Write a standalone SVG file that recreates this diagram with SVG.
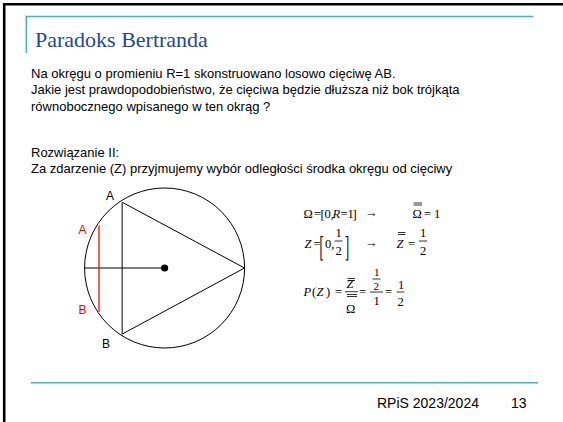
<svg xmlns="http://www.w3.org/2000/svg" width="563" height="422" viewBox="0 0 563 422">
<style>
.body{font-family:"Liberation Sans",Arial,sans-serif;font-size:13px;fill:#000}
.foot{font-family:"Liberation Sans",Arial,sans-serif;font-size:14px;fill:#000}
.title{font-family:"Liberation Serif","Times New Roman",serif;font-size:22px;fill:#2147A0}
.m{font-family:"Liberation Serif","Times New Roman",serif;font-size:12.5px;fill:#000}
.s{font-size:11px}
.i{font-style:italic}
.lbl{font-family:"Liberation Sans",Arial,sans-serif;font-size:12px}
.red{fill:#FF0000}
.teal{stroke:#4AB3B0;stroke-width:1.5;fill:none}
.bar{stroke:#000;stroke-width:0.8}
</style>
<rect width="563" height="422" fill="#fff"/>
<path d="M4.2,422 V4.2 H563" fill="none" stroke="#000" stroke-width="2.6"/>
<g id="frame">
<path class="teal" d="M26.3,53 V16.6 H533.5"/>
<path class="teal" d="M31,382.7 H538"/>
</g>
<g id="title"><text class="title" x="35" y="46.5">Paradoks Bertranda</text></g>
<g id="intro">
<text class="body" x="31" y="77.5">Na okręgu o promieniu R=1 skonstruowano losowo cięciwę AB.</text>
<text class="body" x="31" y="94">Jakie jest prawdopodobieństwo, że cięciwa będzie dłuższa niż bok trójkąta</text>
<text class="body" x="31" y="110.5">równobocznego wpisanego w ten okrąg ?</text>
<text class="body" x="31" y="156.7">Rozwiązanie II:</text>
<text class="body" x="31" y="173.3">Za zdarzenie (Z) przyjmujemy wybór odległości środka okręgu od cięciwy</text>
</g>
<g id="figure">
<circle cx="164.6" cy="268" r="80" fill="none" stroke="#000" stroke-width="1"/>
<path d="M244.5,268 L122.3,202.3 M244.5,268 L121.8,334.3" fill="none" stroke="#000" stroke-width="1"/>
<path d="M122.2,202.3 V334.3" stroke="#555" stroke-width="1.5"/>
<path d="M84.6,268 H164.6" stroke="#000" stroke-width="1"/>
<circle cx="164.6" cy="268" r="3.6" fill="#000"/>
<path d="M99,225.5 V311.8" stroke="#FF0000" stroke-width="1.3"/>
<text class="lbl" x="110" y="199.5" text-anchor="middle">A</text>
<text class="lbl red" x="82.5" y="233.5" text-anchor="middle">A</text>
<text class="lbl red" x="82.5" y="313.5" text-anchor="middle">B</text>
<text class="lbl" x="106" y="347.5" text-anchor="middle">B</text>
</g>
<g id="math">
<!-- line 1 -->
<text class="m" x="303.5" y="218">Ω</text>
<text class="m" x="314" y="218">=</text>
<text class="m" x="320.5" y="219" font-size="15">[</text>
<text class="m" x="324.5" y="218">0,</text>
<text class="m i" x="332.5" y="218">R</text>
<text class="m" x="340.5" y="218">=</text>
<text class="m" x="347.5" y="218">1</text>
<text class="m" x="352.5" y="219" font-size="15">]</text>
<text class="m" x="365" y="217">→</text>
<text class="m" x="412.5" y="218">Ω</text>
<path class="bar" d="M413.5,203 H422 M413.5,205 H422"/>
<text class="m" x="424" y="218">=</text>
<text class="m" x="434" y="218">1</text>
<!-- line 2 -->
<text class="m i" x="304.5" y="248">Z</text>
<text class="m" x="313.5" y="248">=</text>
<text class="m" transform="translate(319.5,256) scale(1,2.3)">[</text>
<text class="m" x="325" y="248">0,</text>
<text class="m" x="335.5" y="237">1</text>
<path class="bar" d="M334.5,241 H342.5"/>
<text class="m" x="335.5" y="255">2</text>
<text class="m" transform="translate(345,256) scale(1,2.3)">]</text>
<text class="m" x="365" y="247">→</text>
<text class="m i" x="396.5" y="248">Z</text>
<path class="bar" d="M398,232.5 H405.5 M398,234.5 H405.5"/>
<text class="m" x="408" y="248">=</text>
<text class="m" x="420" y="237">1</text>
<path class="bar" d="M419,241 H427"/>
<text class="m" x="420" y="255">2</text>
<!-- line 3 -->
<text class="m i" x="303.5" y="296">P</text>
<text class="m" x="312" y="296">(</text>
<text class="m i" x="316.5" y="296">Z</text>
<text class="m" x="326" y="296">)</text>
<text class="m" x="335" y="296">=</text>
<text class="m i" x="346.5" y="288">Z</text>
<path class="bar" d="M347.5,278.5 H355 M347.5,280.5 H355"/>
<path class="bar" d="M345,291.7 H358"/>
<path class="bar" d="M347,294.5 H357 M347,296.5 H357"/>
<text class="m" x="346" y="313">Ω</text>
<text class="m" x="359" y="296">=</text>
<text class="m s" x="374" y="275.5">1</text>
<path class="bar" d="M372.5,279 H380.5"/>
<text class="m s" x="373.5" y="290">2</text>
<path class="bar" d="M370,292 H383"/>
<text class="m" x="373.5" y="305">1</text>
<text class="m" x="385" y="296">=</text>
<text class="m" x="398" y="289">1</text>
<path class="bar" d="M396.5,292 H404.5"/>
<text class="m" x="397.5" y="306">2</text>
</g>
<g id="footer">
<text class="foot" x="377" y="407.5">RPiS 2023/2024</text>
<text class="foot" x="511" y="407.5">13</text>
</g>
</svg>
